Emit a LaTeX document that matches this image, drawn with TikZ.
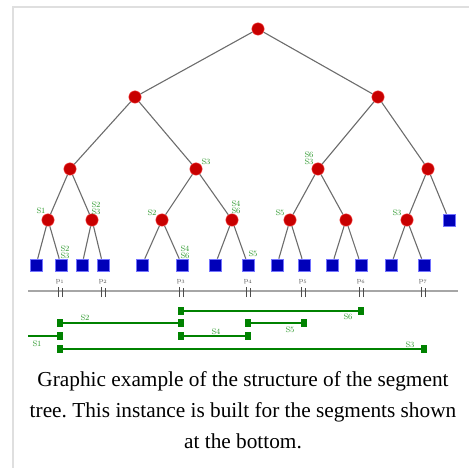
\documentclass[tikz,border=0pt]{standalone}
\usepackage{xcolor}
\usepackage{fontspec}
\newfontfamily\capfont{Liberation Serif}
\usetikzlibrary{positioning}

\definecolor{nodered}{RGB}{200,0,0}
\definecolor{leafblue}{RGB}{0,0,185}
\definecolor{seggreen}{RGB}{0,130,0}

\begin{document}
\frenchspacing
\begin{tikzpicture}[x=1pt, y=-1pt,
  inner/.style={
    circle, fill=nodered, draw=red!65, line width=0.4pt,
    minimum size=12.5pt, inner sep=0pt,
  },
  leaf/.style={
    rectangle, fill=leafblue, draw=blue!55, line width=0.6pt,
    minimum size=12pt, inner sep=0pt,
  },
  edge/.style={gray!85!black, line width=1.1pt},
  seg/.style={seggreen, line width=2pt},
  endmark/.style={rectangle, fill=seggreen, minimum width=6pt, minimum height=8pt, inner sep=0pt},
  slabel/.style={text=seggreen!85, font=\fontsize{8}{7}\selectfont, inner sep=0pt, align=left},
  plabel/.style={font=\fontsize{7}{7}\selectfont, inner sep=0pt, text=gray!60!black},
  caption/.style={font=\capfont\fontsize{21.3}{24}\selectfont, inner sep=0pt},
]
\useasboundingbox (0,0) rectangle (469,468);
\draw[gray!25, line width=2pt] (13,468) -- (13,7) -- (469,7);

% tree: internal nodes
\node[inner] (r)   at (258,29)  {};
\node[inner] (a)   at (135,97)  {};
\node[inner] (b)   at (378,97)  {};
\node[inner] (aa)  at (70,169)  {};
\node[inner] (ab)  at (196,169) {};
\node[inner] (ba)  at (318,169) {};
\node[inner] (bb)  at (428,169) {};
\node[inner] (aaa) at (48,220)  {};
\node[inner] (aab) at (92,220)  {};
\node[inner] (aba) at (162,220) {};
\node[inner] (abb) at (232,220) {};
\node[inner] (baa) at (290,220) {};
\node[inner] (bab) at (346,220) {};
\node[inner] (bba) at (407,220) {};
\node[leaf]  (bbb) at (449,220) {};

% leaves
\foreach \i/\x in {1/36, 2/61, 3/82, 4/103, 5/142, 6/182, 7/215,
                   8/248, 9/277, 10/304, 11/332, 12/361, 13/391, 14/424}
  \node[leaf] (q\i) at (\x,265) {};

\foreach \p/\c in {r/a, r/b, a/aa, a/ab, b/ba, b/bb,
                   aa/aaa, aa/aab, ab/aba, ab/abb, ba/baa, ba/bab, bb/bba, bb/bbb,
                   aaa/q1, aaa/q2, aab/q3, aab/q4, aba/q5, aba/q6, abb/q7, abb/q8,
                   baa/q9, baa/q10, bab/q11, bab/q12, bba/q13, bba/q14}
  \draw[edge] (\p) -- (\c);

% segment labels stored at the nodes
\node[slabel] (tab)  at (206,162) {S3};
\node[slabel] (tba)  at (309,158) {S6\\S3};
\node[slabel] (taaa) at (41,211)  {S1};
\node[slabel] (taab) at (96,208)  {S2\\S3};
\node[slabel] (taba) at (152,213) {S2};
\node[slabel] (tabb) at (236,207) {S4\\S6};
\node[slabel] (tbaa) at (280,213) {S5};
\node[slabel] (tbba) at (397,213) {S3};
\node[slabel] (tq2)  at (65,252)  {S2\\S3};
\node[slabel] (tq6)  at (185,252) {S4\\S6};
\node[slabel] (tq8)  at (253,254) {S5};

% axis with endpoints p1..p7
\coordinate (axl) at (28,291);
\coordinate (axr) at (458,291);
\draw[gray!70, line width=1.1pt] (axl) -- (axr);
\foreach \i/\x in {1/60, 2/103, 3/181, 4/248, 5/303, 6/361, 7/423} {
  \node[plabel] (p\i) at (\x,282) {p$_{\i}$};
  \draw[gray!60!black, line width=0.4pt] (\x-2,297) -- (\x-2,287) (\x+2,297) -- (\x+2,288);
}

% segments
\node[endmark] (s6a) at (181,311) {};
\node[endmark] (s6b) at (361,311) {};
\node[endmark] (s2a) at (60,323)  {};
\node[endmark] (s2b) at (181,323) {};
\node[endmark] (s5a) at (248,323) {};
\node[endmark] (s5b) at (304,323) {};
\coordinate    (s1a) at (28,336);
\node[endmark] (s1b) at (60,336)  {};
\node[endmark] (s4a) at (181,336) {};
\node[endmark] (s4b) at (248,336) {};
\node[endmark] (s3a) at (60,349)  {};
\node[endmark] (s3b) at (424,349) {};
\foreach \s in {s1, s2, s3, s4, s5, s6}
  \draw[seg] (\s a) -- (\s b);

\node[slabel] (l6) at (348,317) {S6};
\node[slabel] (l2) at (85,318)  {S2};
\node[slabel] (l5) at (290,330) {S5};
\node[slabel] (l1) at (37,344)  {S1};
\node[slabel] (l4) at (216,332) {S4};
\node[slabel] (l3) at (410,345) {S3};

% caption
\node[caption] (cap1) at (243,381) {Graphic example of the structure of the segment};
\node[caption] (cap2) at (243,412) {tree. This instance is built for the segments shown};
\node[caption] (cap3) at (243,441) {at the bottom.};
\end{tikzpicture}
\end{document}
